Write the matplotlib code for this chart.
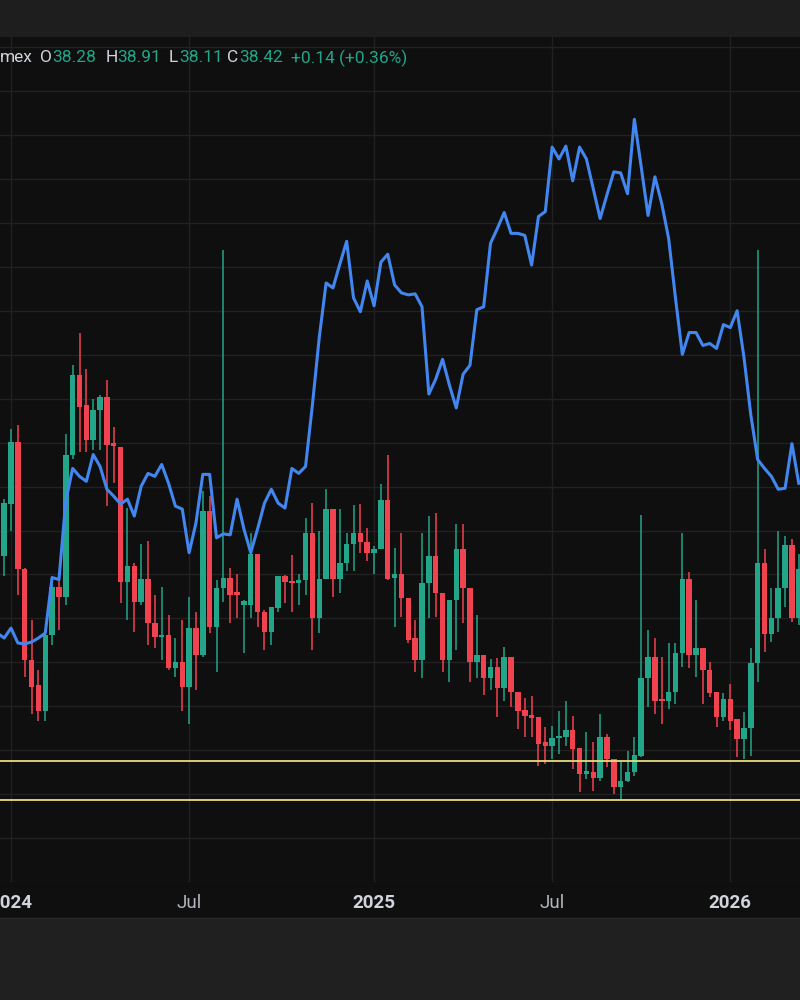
import numpy as np
import pandas as pd
import matplotlib.pyplot as plt
from matplotlib.patches import Rectangle

plt.rcParams['font.family'] = ['Roboto', 'DejaVu Sans']

# weekly candles, first bar = week of 2023-12-25
weeks = pd.date_range('2023-12-25', periods=117, freq='W-MON')

opens = [44.0, 49.2, 55.5, 42.7, 33.5, 31.0, 28.3, 36.0, 40.8, 39.8,
         54.2, 62.2, 59.2, 55.7, 58.7, 60.0, 55.3, 55.0, 41.3, 43.0,
         39.3, 41.7, 37.2, 35.8, 36.0, 32.7, 33.3, 30.8, 36.7, 34.0,
         48.5, 36.8, 40.7, 41.8, 40.3, 39.0, 39.0, 44.2, 38.3, 36.3,
         38.7, 42.0, 41.3, 41.2, 41.5, 46.3, 37.7, 41.7, 48.7, 41.7,
         43.3, 45.2, 46.3, 45.4, 44.3, 44.7, 49.6, 41.8, 42.2, 39.7,
         35.7, 33.5, 41.2, 44.0, 40.2, 33.5, 39.5, 44.7, 40.7, 33.3,
         34.0, 31.7, 32.8, 30.7, 33.8, 30.3, 28.4, 27.9, 27.7, 25.2,
         24.8, 25.6, 25.7, 26.4, 24.6, 22.0, 22.2, 21.6, 25.7, 23.5,
         20.7, 21.3, 22.2, 23.8, 31.7, 33.8, 29.5, 29.3, 30.3, 34.2,
         41.7, 34.0, 34.7, 32.5, 30.3, 27.7, 29.6, 27.5, 25.5, 26.6,
         33.2, 43.3, 36.1, 37.7, 40.7, 45.1, 37.7]
highs = [49.7, 56.8, 57.2, 42.8, 37.5, 32.5, 36.3, 41.7, 41.7, 56.3,
         63.2, 66.5, 62.8, 59.8, 60.2, 61.7, 57.0, 55.0, 48.8, 43.3,
         45.2, 45.5, 40.0, 40.8, 38.0, 35.7, 37.5, 39.8, 38.3, 50.5,
         50.0, 41.5, 74.8, 42.8, 42.2, 39.5, 46.3, 44.2, 38.5, 38.8,
         42.0, 42.1, 44.1, 42.2, 47.8, 49.3, 46.5, 50.7, 48.7, 48.7,
         46.3, 49.1, 49.2, 46.8, 45.0, 51.2, 54.2, 44.8, 46.3, 39.7,
         37.5, 46.3, 48.0, 48.3, 40.2, 39.5, 47.2, 47.2, 40.7, 38.0,
         34.0, 33.6, 33.7, 34.8, 33.8, 30.3, 29.7, 29.9, 27.7, 26.7,
         26.8, 28.3, 29.3, 27.8, 24.6, 26.2, 25.2, 28.0, 26.0, 23.5,
         23.3, 24.3, 25.7, 48.1, 36.5, 35.7, 33.8, 35.2, 35.2, 46.3,
         42.4, 39.5, 34.7, 33.3, 30.3, 30.2, 31.1, 27.5, 28.2, 34.7,
         74.8, 44.7, 40.7, 46.5, 46.0, 45.7, 44.2]
lows = [42.0, 46.5, 40.0, 31.8, 28.0, 27.3, 27.3, 35.0, 36.5, 39.0,
        53.8, 54.5, 54.5, 54.7, 54.7, 49.0, 51.3, 39.2, 37.5, 36.3,
        39.0, 35.0, 34.7, 33.5, 32.5, 31.8, 28.3, 27.0, 30.5, 33.8,
        36.2, 32.3, 39.3, 37.2, 37.7, 34.2, 37.7, 36.8, 34.5, 35.0,
        38.3, 39.2, 38.3, 39.0, 40.0, 34.5, 36.2, 41.7, 39.8, 40.2,
        42.5, 42.5, 44.3, 43.5, 42.2, 44.7, 41.5, 36.8, 37.8, 35.2,
        32.3, 31.7, 37.7, 37.8, 32.3, 31.3, 34.5, 37.2, 31.3, 31.7,
        30.0, 30.5, 27.7, 29.3, 28.7, 26.5, 25.7, 25.7, 22.8, 23.0,
        23.5, 24.0, 24.8, 22.5, 20.2, 21.5, 20.3, 21.3, 22.7, 20.0,
        19.5, 21.2, 21.8, 23.7, 28.7, 28.0, 27.0, 28.5, 29.0, 32.8,
        32.7, 31.8, 29.0, 29.8, 26.7, 27.3, 26.4, 23.7, 23.5, 23.8,
        31.3, 34.3, 35.3, 36.3, 38.8, 37.3, 37.0]
closes = [49.3, 55.5, 42.7, 33.5, 30.8, 28.3, 36.0, 40.8, 39.8, 54.2,
          62.2, 59.0, 55.7, 58.7, 60.0, 55.2, 55.1, 41.3, 43.0, 39.3,
          41.7, 37.2, 35.8, 36.0, 32.7, 33.3, 30.8, 36.7, 34.0, 48.5,
          36.8, 40.7, 41.8, 40.0, 40.0, 39.4, 44.2, 38.3, 36.3, 38.8,
          42.0, 41.3, 41.2, 41.6, 46.3, 37.7, 41.7, 48.7, 41.7, 43.3,
          45.2, 46.3, 45.4, 44.3, 44.7, 49.6, 41.7, 42.2, 39.7, 35.5,
          33.5, 41.2, 44.0, 40.2, 33.5, 39.5, 44.7, 40.7, 33.3, 34.0,
          31.7, 32.8, 30.7, 33.8, 30.3, 28.3, 27.8, 27.6, 25.0, 24.8,
          25.6, 25.8, 26.4, 24.5, 22.0, 22.2, 21.6, 25.7, 23.5, 20.7,
          21.3, 22.2, 23.9, 31.7, 33.8, 29.4, 29.3, 30.3, 34.2, 41.7,
          34.0, 34.7, 32.5, 30.2, 27.7, 29.6, 27.3, 25.5, 26.6, 33.2,
          43.3, 36.1, 37.7, 40.7, 45.1, 37.7, 42.7]

# comparison symbol (blue line), one week earlier start
compare_weeks = pd.date_range('2023-12-18', periods=118, freq='W-MON')
compare = [36.2, 35.7, 36.7, 35.2, 35.1, 35.3, 35.7, 36.2, 41.8, 41.6,
           49.5, 52.8, 52.0, 51.5, 54.2, 53.0, 50.7, 50.0, 49.2, 49.7,
           48.0, 51.0, 52.3, 52.0, 53.2, 51.3, 49.0, 48.7, 44.3, 47.3,
           52.2, 52.2, 45.8, 46.2, 46.1, 49.7, 46.7, 44.3, 46.7, 49.3,
           50.7, 49.3, 48.8, 52.8, 52.3, 53.0, 59.2, 66.0, 71.5, 71.0,
           73.4, 75.7, 70.0, 68.6, 71.7, 69.2, 73.6, 74.4, 71.3, 70.5,
           70.3, 70.4, 69.1, 60.3, 61.8, 63.8, 61.2, 58.9, 62.3, 63.2,
           68.8, 69.1, 75.5, 77.0, 78.6, 76.5, 76.5, 76.3, 73.3, 78.2,
           78.7, 85.2, 84.0, 85.3, 81.8, 85.2, 84.0, 81.0, 78.0, 80.4,
           82.7, 82.6, 80.5, 88.0, 83.2, 78.3, 82.2, 79.5, 76.0, 70.0,
           64.3, 66.5, 66.5, 65.2, 65.4, 64.9, 67.3, 67.0, 68.7, 64.0,
           58.2, 53.7, 52.8, 52.0, 50.7, 50.8, 55.3, 51.3]

levels = [23.3, 19.4]

tick_dates = ['2024-01-01', '2024-07-01', '2025-01-06', '2025-07-07', '2026-01-05']
tick_labels = ['2024', 'Jul', '2025', 'Jul', '2026']

# header: (text, is_value, left pixel)
header = [('mex', False, 0), ('O', False, 40), ('38.28', True, 52),
          ('H', False, 106), ('38.91', True, 117), ('L', False, 169),
          ('38.11', True, 179), ('C', False, 227), ('38.42', True, 239),
          ('+0.14 (+0.36%)', True, 291)]

UP = '#22a588'
DOWN = '#f0424f'
BG = '#0f0f0f'

base = pd.Timestamp('2024-01-01')
x = np.asarray((weeks - base).days) / 7.0
xc = np.asarray((compare_weeks - base).days) / 7.0
o = np.array(opens)
h = np.array(highs)
l = np.array(lows)
c = np.array(closes)
colors = np.where(c >= o, UP, DOWN)

fig = plt.figure(figsize=(8, 10), dpi=100, facecolor=BG)
fig.add_artist(Rectangle((0, 0.963), 1, 0.037, transform=fig.transFigure,
                         facecolor='#1e1e1e', edgecolor='none'))
fig.add_artist(Rectangle((0, 0), 1, 0.082, transform=fig.transFigure,
                         facecolor='#202020', edgecolor='none'))
fig.add_artist(plt.Line2D([0, 1], [0.082, 0.082], transform=fig.transFigure,
                          color='#2a2a2a', lw=1))

ax = fig.add_axes([0, 0.118, 1, 0.845])
ax.set_facecolor(BG)
for s in ax.spines.values():
    s.set_visible(False)

# wicks and bodies
ax.vlines(x, l, h, colors=colors, linewidth=1.1, zorder=3)
body_low = np.minimum(o, c)
body_h = np.maximum(np.abs(c - o), 0.25)
ax.bar(x, body_h, bottom=body_low, width=0.8, color=colors, linewidth=0, zorder=3)

for lv in levels:
    ax.axhline(lv, color='#e9dd7c', lw=1.3, zorder=4)

ax.plot(xc, compare, color='#4286f0', lw=2.2, zorder=5, solid_joinstyle='round')

ax.set_xlim(-1.606, 115.18)
ax.set_ylim(11.8, 96.3)
ax.set_yticks(np.arange(11.1, 96, 4.43))
ax.tick_params(axis='y', length=0, labelleft=False)
tick_pos = [(pd.Timestamp(d) - base).days / 7.0 for d in tick_dates]
ax.set_xticks(tick_pos)
ax.set_xticklabels(tick_labels)
ax.tick_params(axis='x', length=0, pad=9.0, labelsize=13.5)
for lab in ax.get_xticklabels():
    if lab.get_text().isdigit():
        lab.set_fontweight('bold')
        lab.set_color('#d1d4dc')
    else:
        lab.set_color('#b2b5be')
ax.grid(True, color='#212121', lw=1, zorder=0)
ax.set_axisbelow(True)

for txt, is_val, px in header:
    fig.text(px / 800, 1 - 58 / 1000, txt, ha='left', va='center', fontsize=12.5,
             color='#22a588' if is_val else '#d1d4dc')

fig.savefig('out.png', dpi=100, facecolor=fig.get_facecolor())
